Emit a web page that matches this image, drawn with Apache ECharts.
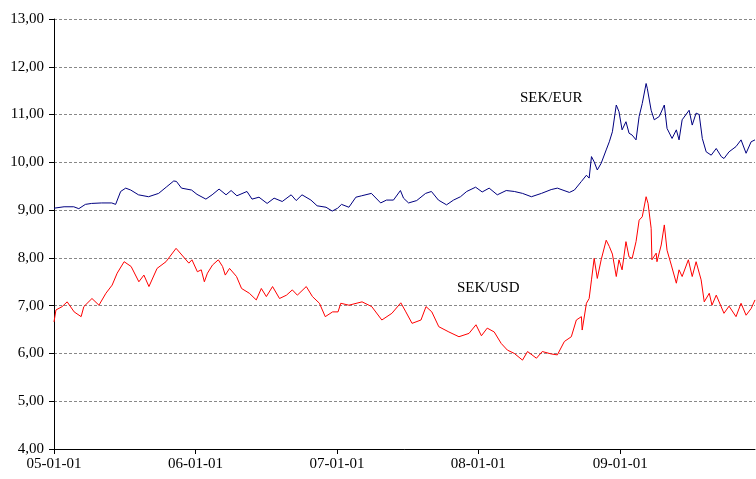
<!DOCTYPE html>
<html>
<head>
<meta charset="utf-8">
<title>SEK/EUR, SEK/USD</title>
<script src="https://cdn.jsdelivr.net/npm/echarts@6/dist/echarts.min.js"></script>
<style>
  html, body { margin: 0; padding: 0; background: #fff; }
  #chart { width: 756px; height: 479px; }
</style>
</head>
<body>
<div id="chart"></div>
<script>
// SEK/EUR
var eurDates = [
  '2005-01-01','2005-01-27','2005-02-21','2005-03-06','2005-03-23','2005-04-08','2005-05-04','2005-05-30',
  '2005-06-09','2005-06-22','2005-07-05','2005-07-18','2005-08-07','2005-09-02','2005-09-28','2005-10-19',
  '2005-11-06','2005-11-13','2005-11-26','2005-12-22',
  '2006-01-05','2006-01-28','2006-02-13','2006-03-03','2006-03-21','2006-04-03','2006-04-18','2006-05-14',
  '2006-05-27','2006-06-14','2006-07-05','2006-07-23','2006-08-13','2006-09-05','2006-09-18','2006-10-03',
  '2006-10-26','2006-11-11','2006-12-04','2006-12-20',
  '2007-01-03','2007-01-13','2007-02-01','2007-02-19','2007-03-06','2007-03-31','2007-04-24','2007-05-09',
  '2007-05-27','2007-06-14','2007-06-22','2007-07-05','2007-07-26','2007-08-18','2007-09-02','2007-09-20',
  '2007-10-11','2007-10-29','2007-11-16','2007-12-02','2007-12-25',
  '2008-01-11','2008-01-29','2008-02-19','2008-03-13','2008-04-03','2008-04-24','2008-05-17','2008-06-12',
  '2008-07-07','2008-07-23','2008-08-23','2008-09-05','2008-09-23','2008-10-06','2008-10-13','2008-10-19',
  '2008-10-26','2008-11-03','2008-11-13','2008-11-26','2008-12-04','2008-12-12','2008-12-22','2008-12-29',
  '2009-01-06','2009-01-16','2009-01-24','2009-02-01','2009-02-11','2009-02-19','2009-02-27','2009-03-09',
  '2009-03-12','2009-03-22','2009-03-30','2009-04-12','2009-04-25','2009-05-02','2009-05-15','2009-05-26',
  '2009-06-02','2009-06-10','2009-06-28','2009-07-06','2009-07-16','2009-07-24','2009-08-01','2009-08-11',
  '2009-08-24','2009-09-06','2009-09-19','2009-09-26','2009-10-09','2009-10-27','2009-11-09','2009-11-22',
  '2009-12-05','2009-12-15'
];
var eurValues = [
  9.04, 9.07, 9.07, 9.03, 9.12, 9.14, 9.15, 9.15,
  9.12, 9.39, 9.46, 9.42, 9.32, 9.28, 9.35, 9.49,
  9.61, 9.60, 9.46, 9.42,
  9.33, 9.23, 9.32, 9.44, 9.32, 9.41, 9.30, 9.39,
  9.23, 9.27, 9.14, 9.25, 9.18, 9.32, 9.20, 9.32,
  9.21, 9.09, 9.06, 8.98,
  9.04, 9.12, 9.06, 9.27, 9.30, 9.35, 9.15, 9.21,
  9.21, 9.41, 9.25, 9.15, 9.20, 9.35, 9.39, 9.21,
  9.11, 9.21, 9.28, 9.39, 9.48,
  9.38, 9.46, 9.32, 9.41, 9.39, 9.35, 9.28, 9.35,
  9.43, 9.46, 9.37, 9.42, 9.60, 9.73, 9.67, 10.12,
  10.01, 9.84, 9.98, 10.26, 10.43, 10.64, 11.20, 11.06,
  10.68, 10.85, 10.61, 10.57, 10.47, 10.96, 11.23, 11.65,
  11.55, 11.09, 10.89, 10.96, 11.20, 10.71, 10.50, 10.68,
  10.47, 10.89, 11.09, 10.78, 11.03, 11.00, 10.50, 10.22,
  10.15, 10.29, 10.12, 10.08, 10.22, 10.33, 10.47, 10.19,
  10.43, 10.47
];

// SEK/USD
var usdDates = [
  '2005-01-01','2005-01-06','2005-01-22','2005-02-04','2005-02-22','2005-03-12','2005-03-19','2005-04-09',
  '2005-04-27','2005-05-15','2005-05-31','2005-06-13','2005-07-01','2005-07-19','2005-08-08','2005-08-21',
  '2005-09-03','2005-09-24','2005-10-17','2005-11-12','2005-11-27','2005-12-15','2005-12-23',
  '2006-01-06','2006-01-16','2006-01-24','2006-02-01','2006-02-14','2006-03-01','2006-03-12','2006-03-19',
  '2006-03-30','2006-04-17','2006-04-30','2006-05-20','2006-06-07','2006-06-20','2006-07-03','2006-07-19',
  '2006-08-06','2006-08-24','2006-09-08','2006-09-21','2006-10-14','2006-10-30','2006-11-17','2006-12-02',
  '2006-12-21',
  '2007-01-04','2007-01-11','2007-02-01','2007-03-07','2007-04-01','2007-04-27','2007-05-23','2007-06-15',
  '2007-06-28','2007-07-14','2007-08-06','2007-08-19','2007-09-03','2007-09-21','2007-10-17','2007-11-12',
  '2007-12-08','2007-12-26',
  '2008-01-09','2008-01-24','2008-02-11','2008-02-29','2008-03-16','2008-04-03','2008-04-24','2008-05-07',
  '2008-05-30','2008-06-14','2008-07-07','2008-07-23','2008-08-10','2008-08-28','2008-09-10','2008-09-23',
  '2008-09-25','2008-10-06','2008-10-13','2008-10-19','2008-10-26','2008-11-03','2008-11-13','2008-11-26',
  '2008-12-04','2008-12-12','2008-12-22','2008-12-29',
  '2009-01-06','2009-01-16','2009-01-24','2009-02-01','2009-02-11','2009-02-19','2009-02-27','2009-03-09',
  '2009-03-14','2009-03-22','2009-03-24','2009-04-04','2009-04-06','2009-04-17','2009-04-25','2009-05-02',
  '2009-05-13','2009-05-26','2009-06-02','2009-06-10','2009-06-26','2009-07-06','2009-07-16','2009-07-29',
  '2009-08-06','2009-08-19','2009-08-26','2009-09-06','2009-09-26','2009-10-09','2009-10-27','2009-11-09',
  '2009-11-22','2009-12-05','2009-12-15'
];
var usdValues = [
  6.66, 6.91, 6.98, 7.08, 6.87, 6.77, 6.98, 7.15,
  7.01, 7.26, 7.43, 7.68, 7.92, 7.82, 7.50, 7.64,
  7.40, 7.78, 7.92, 8.20, 8.06, 7.89, 7.96,
  7.71, 7.75, 7.50, 7.68, 7.85, 7.96, 7.82, 7.64,
  7.78, 7.61, 7.36, 7.26, 7.12, 7.36, 7.19, 7.40,
  7.15, 7.22, 7.33, 7.22, 7.40, 7.19, 7.05, 6.77,
  6.87,
  6.87, 7.05, 7.01, 7.08, 6.98, 6.70, 6.84, 7.06,
  6.87, 6.63, 6.70, 6.98, 6.87, 6.56, 6.45, 6.35,
  6.42, 6.60,
  6.37, 6.53, 6.45, 6.21, 6.07, 6.00, 5.86, 6.04,
  5.90, 6.04, 5.99, 5.97, 6.25, 6.35, 6.70, 6.77,
  6.49, 7.05, 7.15, 7.54, 7.99, 7.57, 7.96, 8.37,
  8.24, 8.08, 7.61, 7.96,
  7.75, 8.34, 8.02, 7.99, 8.34, 8.79, 8.86, 9.28,
  9.14, 8.62, 7.96, 8.10, 7.92, 8.27, 8.69, 8.16,
  7.85, 7.47, 7.75, 7.61, 7.96, 7.61, 7.92, 7.54,
  7.08, 7.26, 7.01, 7.22, 6.84, 6.99, 6.77, 7.05,
  6.80, 6.94, 7.12
];

var yTicks = { min: 4, max: 13, step: 1 };

function pairs(dates, values) {
  var out = [];
  for (var i = 0; i < dates.length; i++) out.push([dates[i], values[i]]);
  return out;
}

function pad(n) { return (n < 10 ? '0' : '') + n; }

var serif = '"Liberation Serif", "DejaVu Serif", serif';

var myChart = echarts.init(document.getElementById('chart'));
var option = {
  animation: false,
  backgroundColor: '#fff',
  grid: { left: 54, right: 1, top: 19, bottom: 30 },
  xAxis: {
    type: 'time',
    min: '2005-01-01',
    max: '2009-12-15',
    minInterval: 365 * 24 * 3600 * 1000,
    maxInterval: 366 * 24 * 3600 * 1000,
    splitLine: { show: false },
    axisLine: { lineStyle: { color: '#000', width: 1 } },
    axisTick: { show: true, length: 5, lineStyle: { color: '#000' } },
    axisLabel: {
      color: '#000',
      fontFamily: serif,
      fontSize: 15,
      margin: 8,
      formatter: function (v) {
        var d = new Date(v);
        return pad(d.getFullYear() % 100) + '-' + pad(d.getMonth() + 1) + '-' + pad(d.getDate());
      }
    }
  },
  yAxis: {
    type: 'value',
    min: yTicks.min,
    max: yTicks.max,
    interval: yTicks.step,
    axisLine: { show: true, lineStyle: { color: '#000', width: 1 } },
    axisTick: { show: true, length: 5, lineStyle: { color: '#000' } },
    splitLine: { show: true, lineStyle: { color: '#888', type: [3, 2], width: 1 } },
    axisLabel: {
      color: '#000',
      fontFamily: serif,
      fontSize: 15,
      margin: 10,
      formatter: function (v) { return v.toFixed(2).replace('.', ','); }
    }
  },
  graphic: [
    { type: 'text', left: 520, top: 91, style: { text: 'SEK/EUR', font: '15px ' + serif, fill: '#000' } },
    { type: 'text', left: 457, top: 281, style: { text: 'SEK/USD', font: '15px ' + serif, fill: '#000' } }
  ],
  series: [
    {
      name: 'SEK/EUR',
      type: 'line',
      showSymbol: false,
      data: pairs(eurDates, eurValues),
      lineStyle: { color: '#000080', width: 1 }
    },
    {
      name: 'SEK/USD',
      type: 'line',
      showSymbol: false,
      data: pairs(usdDates, usdValues),
      lineStyle: { color: '#ff0000', width: 1 }
    }
  ]
};
myChart.setOption(option);
</script>
</body>
</html>
